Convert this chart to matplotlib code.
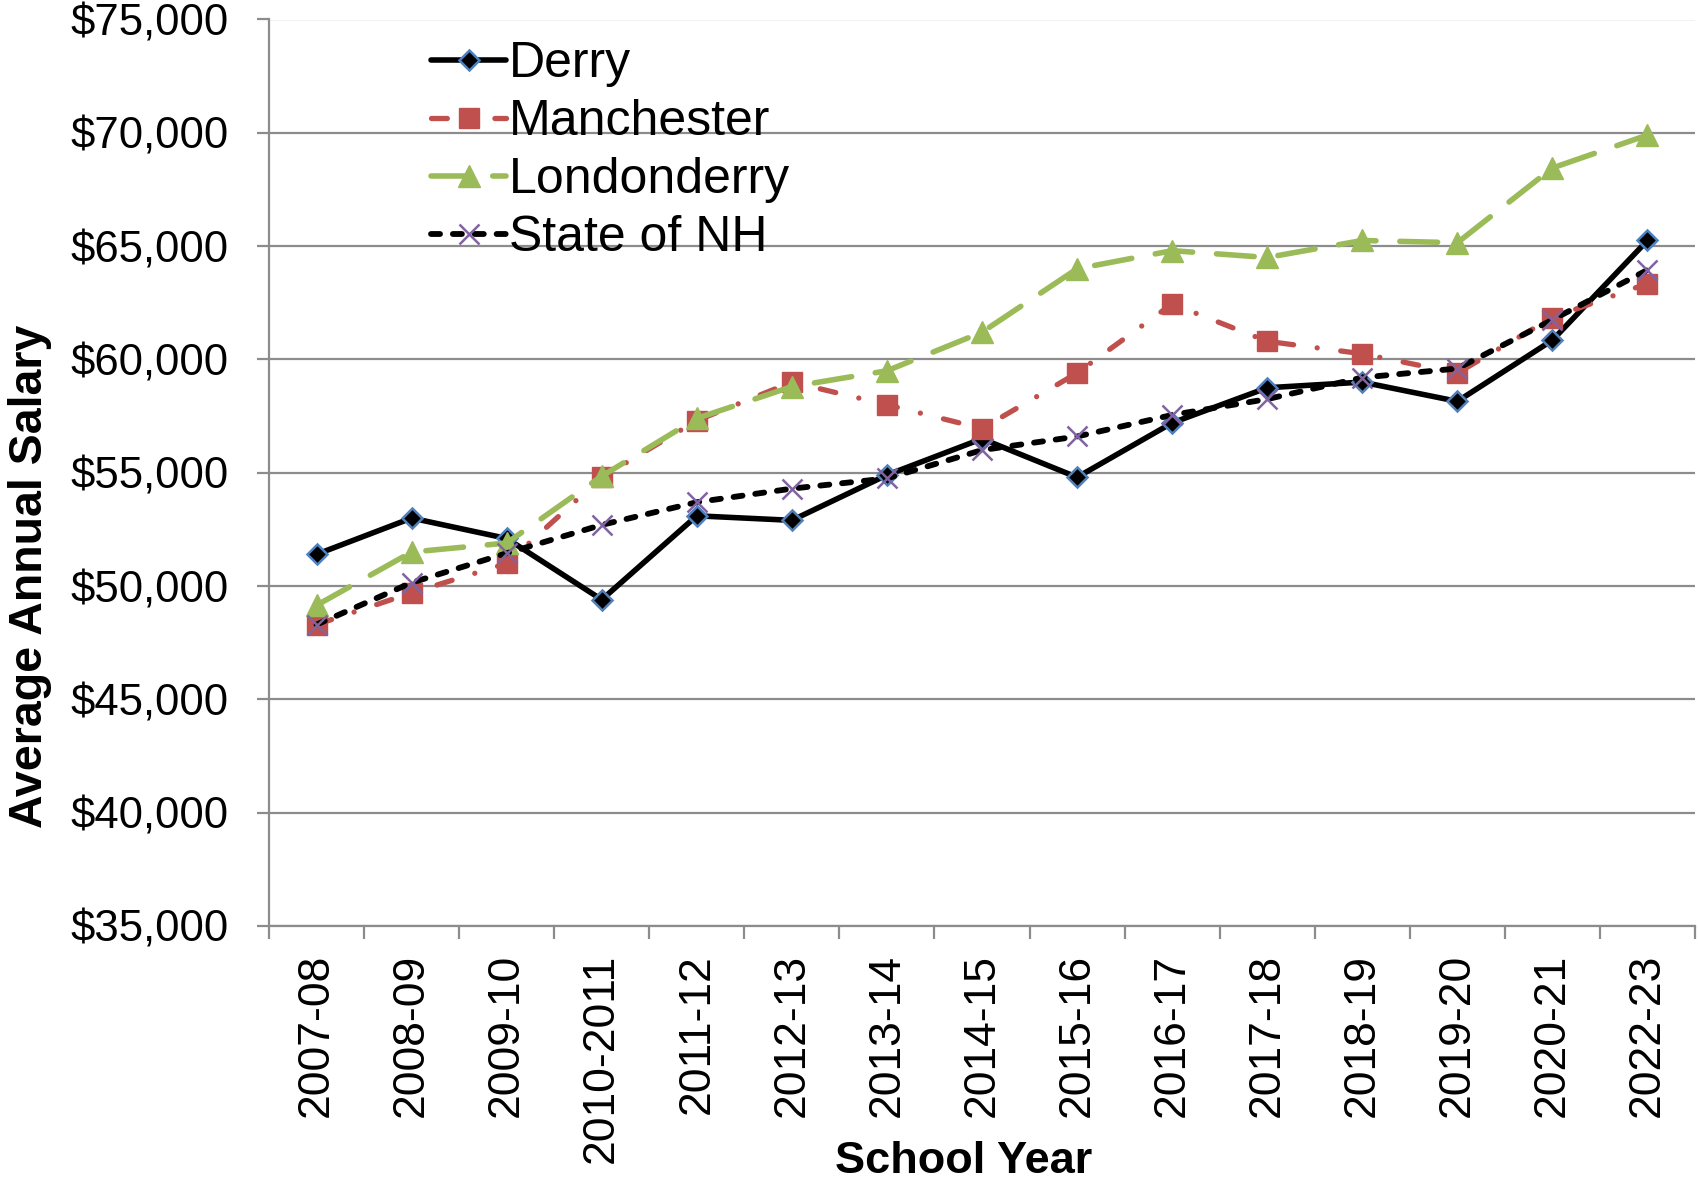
import matplotlib
matplotlib.use("Agg")
import matplotlib.pyplot as plt
from matplotlib.ticker import FuncFormatter, FixedLocator

# ---- data ----
years = ["2007-08", "2008-09", "2009-10", "2010-2011", "2011-12", "2012-13", "2013-14",
         "2014-15", "2015-16", "2016-17", "2017-18", "2018-19", "2019-20", "2020-21", "2022-23"]
derry = [51400, 53000, 52100, 49400, 53100, 52900, 54900, 56500, 54800, 57200,
         58750, 59000, 58150, 60850, 65250]
manchester = [48300, 49700, 51000, 54800, 57300, 59000, 58000, 56950, 59400, 62450,
              60800, 60250, 59400, 61850, 63350]
londonderry = [49150, 51500, 51900, 54850, 57400, 58800, 59500, 61200, 64000, 64800,
               64500, 65250, 65150, 68450, 69900]
state_nh = [48300, 50150, 51450, 52700, 53700, 54300, 54750, 56000, 56600, 57550,
            58250, 59200, 59600, 61750, 63950]
series_names = ["Derry", "Manchester", "Londonderry", "State of NH"]
y_ticks = [35000, 40000, 45000, 50000, 55000, 60000, 65000, 70000, 75000]

plt.rcParams['font.family'] = ['Liberation Sans', 'DejaVu Sans']

W, H = 1698, 1185
fig = plt.figure(figsize=(W / 100, H / 100), dpi=100)
ax = fig.add_axes([269 / W, 1 - 926 / H, (1695 - 269) / W, (926 - 19.5) / H])

x = list(range(len(years)))
GRID = "#8c8c8c"

ax.plot(x, derry, color="black", lw=4.0, marker="D", ms=10, mfc="black",
        mec="#4F81BD", mew=1.8, label=series_names[0], solid_capstyle="round",
        solid_joinstyle="round", zorder=3)
ax.plot(x, manchester, color="#C0504D", lw=3.8, dashes=(3.0, 4.5, 0.01, 4.5),
        dash_capstyle="round", marker="s", ms=14.5, mfc="#C0504D", mec="#C0504D",
        label=series_names[1], zorder=4)
ax.plot(x, londonderry, color="#9BBB59", lw=4.0, dashes=(6.8, 4.3),
        dash_capstyle="round", marker="^", ms=15.5, mfc="#9BBB59", mec="#9BBB59",
        label=series_names[2], zorder=5)
ax.plot(x, state_nh, color="black", lw=4.2, dashes=(1.55, 2.2),
        dash_capstyle="round", marker="x", ms=15, mec="#8064A2", mew=1.8,
        label=series_names[3], zorder=6)

ax.set_xlim(-0.5, len(years) - 0.5)
ax.set_ylim(35000, 75000)
ax.set_yticks(y_ticks)
ax.yaxis.set_major_formatter(FuncFormatter(lambda v, p: f"${int(v):,}"))
ax.grid(axis="y", color=GRID, lw=1.6, zorder=0)
ax.set_axisbelow(True)

for s in ["top", "right"]:
    ax.spines[s].set_visible(False)
for s in ["left", "bottom"]:
    ax.spines[s].set_color(GRID)
    ax.spines[s].set_linewidth(1.6)

ax.tick_params(axis="y", direction="out", length=9, width=1.6, color=GRID,
               labelsize=31.5, pad=20)
ax.set_xticks(x)
ax.set_xticklabels(years, rotation=90, ha="center", va="top")
ax.tick_params(axis="x", which="major", length=0, labelsize=32, pad=20)
ax.xaxis.set_minor_locator(FixedLocator([i - 0.5 for i in range(len(years) + 1)]))
ax.tick_params(axis="x", which="minor", direction="out", length=9.5, width=1.6, color=GRID)

fig.text(964 / W, 1 - 1173 / H, "School Year", ha="center", va="baseline",
         fontsize=32.5, fontweight="bold")
fig.text(30 / W, 1 - 576 / H, "Average Annual Salary", rotation=90, ha="center",
         va="center", fontsize=33.5, fontweight="bold")

leg = ax.legend(loc="upper left", bbox_to_anchor=(431 / W, 1 - 41 / H),
                bbox_transform=fig.transFigure, frameon=False, fontsize=36,
                handlelength=1.5, handletextpad=0.05, labelspacing=0.24,
                borderpad=0, borderaxespad=0)

fig.savefig("out.png", dpi=100)
